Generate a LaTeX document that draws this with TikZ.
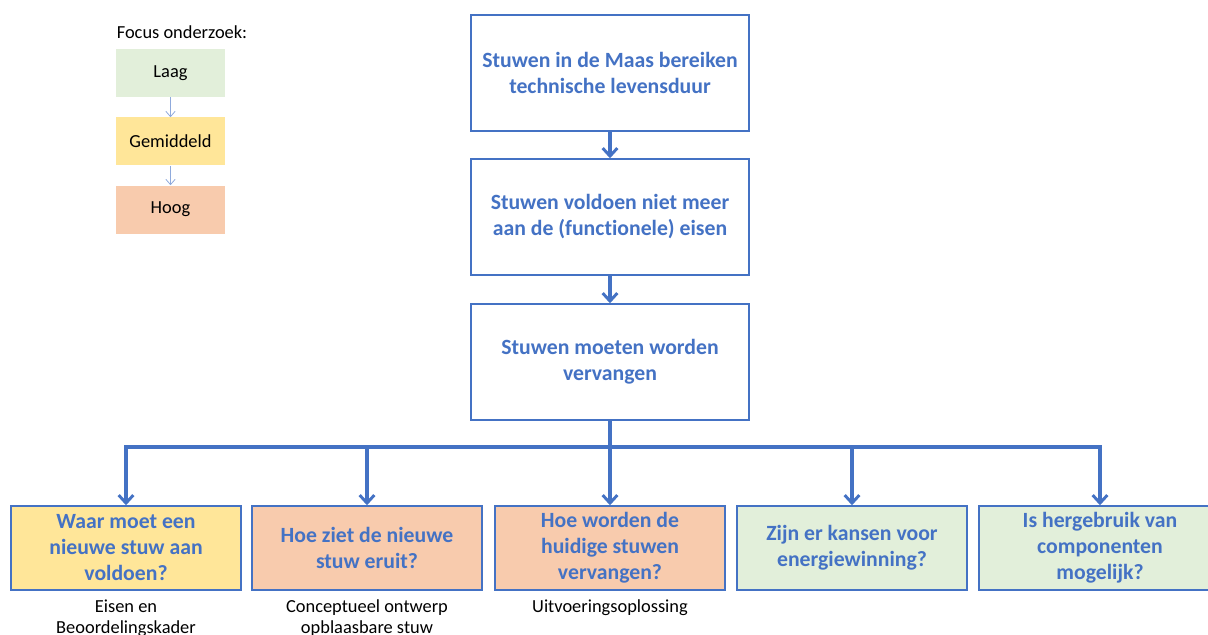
\documentclass[tikz,border=0pt]{standalone}
\usepackage{fontspec}
\setmainfont{Carlito}[Ligatures=NoCommon]
\usetikzlibrary{arrows.meta}
\definecolor{bblue}{HTML}{4472C4}
\definecolor{lblue}{HTML}{8FAADC}
\definecolor{fgreen}{HTML}{E2EFDA}
\definecolor{fyellow}{HTML}{FFE699}
\definecolor{forange}{HTML}{F8CBAD}
\tikzset{
  mainbox/.style={draw=bblue, line width=1.1pt, fill=white, minimum width=208.5pt, minimum height=87pt,
    align=center, text=bblue, font=\fontsize{16.3}{19.5}\selectfont\bfseries, inner sep=0pt},
  qbox/.style={draw=bblue, line width=1.1pt, minimum width=172.5pt, minimum height=63pt,
    align=center, text=bblue, font=\fontsize{16.3}{19.5}\selectfont\bfseries, inner sep=0pt},
  legbox/.style={minimum width=81.75pt, minimum height=36pt, inner sep=0pt, font=\fontsize{13.8}{16}\selectfont},
  sublabel/.style={align=center, font=\fontsize{13.8}{15.75}\selectfont, inner sep=0pt},
  conn/.style={draw=bblue, line width=2.3pt},
  arr/.style={-{Straight Barb[length=6pt,width=11pt,line width=2.2pt]}},
  legarr/.style={draw=lblue, line width=0.7pt, -{Straight Barb[length=4pt,width=7pt,line width=0.6pt]}}
}
\begin{document}
\begin{tikzpicture}[x=0.75pt,y=-0.75pt]
\useasboundingbox (0,0) rectangle (1208,635);
\clip (0,0) rectangle (1208,635);
% legend
\node[font=\fontsize{13.8}{16}\selectfont, inner sep=0pt] (ftitle) at (182,32) {Focus onderzoek:};
\node[legbox, fill=fgreen] (laag) at (170.5,73) {Laag};
\node[legbox, fill=fyellow] (gem) at (170.5,141.5) {Gemiddeld};
\node[legbox, fill=forange] (hoog) at (170.5,209.5) {Hoog};
\draw[legarr] (laag) -- (gem);
\draw[legarr] (gem) -- (hoog);
% main chain
\node[mainbox] (n1) at (610,73) {Stuwen in de Maas bereiken\\technische levensduur};
\node[mainbox] (n2) at (610,217) {Stuwen voldoen niet meer\\aan de (functionele) eisen};
\node[mainbox] (n3) at (610,362) {Stuwen moeten worden\\vervangen};
\draw[conn, arr] (n1) -- (n2);
\draw[conn, arr] (n2) -- (n3);
% questions
\node[qbox, fill=fyellow] (q1) at (126,548) {Waar moet een\\nieuwe stuw aan\\voldoen?};
\node[qbox, fill=forange] (q2) at (367,548) {Hoe ziet de nieuwe\\stuw eruit?};
\node[qbox, fill=forange] (q3) at (610,548) {Hoe worden de\\huidige stuwen\\vervangen?};
\node[qbox, fill=fgreen] (q4) at (852,548) {Zijn er kansen voor\\energiewinning?};
\node[qbox, fill=fgreen, minimum width=181.5pt] (q5) at (1100,548) {Is hergebruik van\\componenten\\mogelijk?};
% bus
\coordinate (bus) at (610,447);
\draw[conn] (n3.south) -- (bus);
\draw[conn, arr] (bus) -| (q1.north);
\draw[conn, arr] (bus) -| (q2.north);
\draw[conn, arr] (bus) -- (q3.north);
\draw[conn, arr] (bus) -| (q4.north);
\draw[conn, arr] (bus) -| (q5.north);
% sub labels
\node[sublabel, anchor=north] (s1) at (126,599.5) {Eisen en\\Beoordelingskader};
\node[sublabel, anchor=north] (s2) at (367,599.5) {Conceptueel ontwerp\\opblaasbare stuw};
\node[sublabel, anchor=north] (s3) at (610,599.5) {Uitvoeringsoplossing};
\end{tikzpicture}
\end{document}
